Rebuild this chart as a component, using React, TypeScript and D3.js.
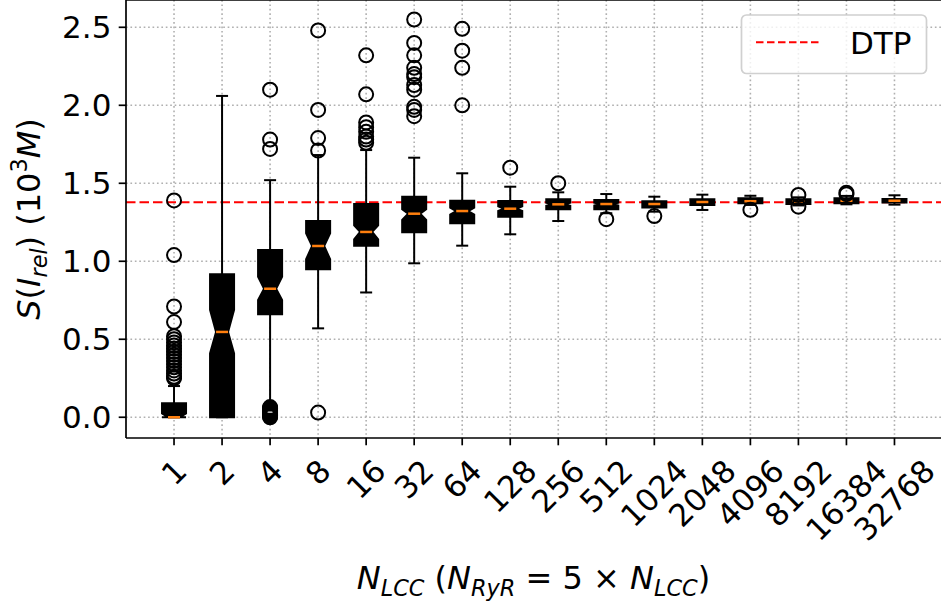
import React from 'react';
import * as d3 from 'd3';

// ---- Data ----
const categories = ['1', '2', '4', '8', '16', '32', '64', '128', '256', '512', '1024', '2048', '4096', '8192', '16384', '32768'];
const q1Values = [0.0, 0.0, 0.66, 0.949, 1.1, 1.186, 1.244, 1.286, 1.333, 1.333, 1.344, 1.361, 1.372, 1.367, 1.372, 1.376];
const medianValues = [0.0, 0.547, 0.824, 1.098, 1.188, 1.305, 1.322, 1.337, 1.365, 1.367, 1.367, 1.38, 1.385, 1.382, 1.388, 1.388];
const q3Values = [0.09, 0.917, 1.072, 1.258, 1.367, 1.414, 1.388, 1.387, 1.397, 1.393, 1.385, 1.397, 1.404, 1.397, 1.404, 1.399];
const notchLowValues = [0.0, 0.41, 0.752, 1.013, 1.141, 1.265, 1.3, 1.322, 1.355, 1.358, 1.361, 1.375, 1.38, 1.378, 1.383, 1.385];
const notchHighValues = [0.025, 0.688, 0.9, 1.18, 1.23, 1.333, 1.343, 1.352, 1.375, 1.376, 1.373, 1.385, 1.39, 1.386, 1.393, 1.391];
const whiskerLowValues = [0.0, 0.0, 0.09, 0.57, 0.8, 0.987, 1.1, 1.173, 1.258, 1.308, 1.318, 1.329, 1.361, 1.358, 1.365, 1.363];
const whiskerHighValues = [0.2, 2.06, 1.52, 1.681, 1.713, 1.664, 1.564, 1.478, 1.442, 1.431, 1.414, 1.427, 1.42, 1.41, 1.419, 1.423];
const outlierValues: number[][] = [
  [0.25, 0.26, 0.28, 0.3, 0.32, 0.34, 0.36, 0.38, 0.4, 0.42, 0.44, 0.46, 0.48, 0.5, 0.52, 0.61, 0.71, 1.04, 1.39],
  [],
  [0.0, 0.005, 0.01, 0.015, 0.02, 0.025, 0.03, 0.035, 0.04, 0.045, 0.05, 0.055, 0.06, 0.065, 1.72, 1.78, 2.1],
  [0.03, 1.71, 1.79, 1.97, 2.48],
  [1.76, 1.78, 1.8, 1.83, 1.86, 1.89, 2.07, 2.32],
  [1.93, 1.97, 1.99, 2.1, 2.13, 2.18, 2.2, 2.24, 2.32, 2.4, 2.55],
  [2.0, 2.24, 2.35, 2.49],
  [1.6],
  [1.5],
  [1.27],
  [1.29],
  [],
  [1.33],
  [1.35, 1.425],
  [1.43, 1.44],
  [],
];
const dtpValue = 1.378;
const yTicks = [0, 0.5, 1.0, 1.5, 2.0, 2.5];
const yTickLabels = ['0.0', '0.5', '1.0', '1.5', '2.0', '2.5'];

// ---- Layout ----
const W = 941;
const H = 603;
const AX_LEFT = 126;
const AX_RIGHT = 942.5;
const AX_TOP = 0;
const AX_BOTTOM = 438;
const FONT = '"DejaVu Sans", sans-serif';
const TICK_FS = 31;
const LABEL_FS = 32;
const TICK_LEN = 7.3;
const TICK_PAD = 7.3;

export default function App() {
  const x = d3.scaleLinear().domain([0, 17]).range([AX_LEFT, AX_RIGHT]);
  const y = d3.scaleLinear().domain([-0.133, 2.675]).range([AX_BOTTOM, AX_TOP]);
  const boxHalf = x(0.25) - x(0);
  const line = d3.line<[number, number]>();

  const positions = categories.map((_, i) => i + 1);

  return (
    <svg
      width={W}
      height={H}
      viewBox={`0 0 ${W} ${H}`}
      style={{ position: 'absolute', left: 0, top: 0, background: '#fff' }}
      fontFamily={FONT}
    >
      <rect x={0} y={0} width={W} height={H} fill="#fff" />
      {/* grid */}
      <g stroke="#b0b0b0" strokeWidth={1.6} strokeDasharray="1.67,2.75">
        {positions.map((p) => (
          <line key={'gx' + p} x1={x(p)} x2={x(p)} y1={AX_TOP} y2={AX_BOTTOM} />
        ))}
        {yTicks.map((t) => (
          <line key={'gy' + t} x1={AX_LEFT} x2={AX_RIGHT} y1={y(t)} y2={y(t)} />
        ))}
      </g>

      {/* DTP reference line */}
      <line
        x1={AX_LEFT}
        x2={AX_RIGHT}
        y1={y(dtpValue)}
        y2={y(dtpValue)}
        stroke="#ff0000"
        strokeWidth={2}
        strokeDasharray="9.5,4"
      />

      {/* boxes */}
      {positions.map((p, i) => {
        const cx = x(p);
        const l = cx - boxHalf;
        const r = cx + boxHalf;
        const nl = cx - boxHalf / 2;
        const nr = cx + boxHalf / 2;
        const pts: [number, number][] = [
          [l, y(q1Values[i])],
          [r, y(q1Values[i])],
          [r, y(notchLowValues[i])],
          [nr, y(medianValues[i])],
          [r, y(notchHighValues[i])],
          [r, y(q3Values[i])],
          [l, y(q3Values[i])],
          [l, y(notchHighValues[i])],
          [nl, y(medianValues[i])],
          [l, y(notchLowValues[i])],
          [l, y(q1Values[i])],
        ];
        return (
          <g key={'b' + p}>
            <path d={line(pts) + 'Z'} fill="#000" stroke="#000" strokeWidth={2} strokeLinejoin="miter" />
            <line x1={cx} x2={cx} y1={y(q1Values[i])} y2={y(whiskerLowValues[i])} stroke="#000" strokeWidth={2} />
            <line x1={cx} x2={cx} y1={y(q3Values[i])} y2={y(whiskerHighValues[i])} stroke="#000" strokeWidth={2} />
            <line x1={nl} x2={nr} y1={y(whiskerLowValues[i])} y2={y(whiskerLowValues[i])} stroke="#000" strokeWidth={2} />
            <line x1={nl} x2={nr} y1={y(whiskerHighValues[i])} y2={y(whiskerHighValues[i])} stroke="#000" strokeWidth={2} />
            <line x1={nl} x2={nr} y1={y(medianValues[i])} y2={y(medianValues[i])} stroke="#ff7f0e" strokeWidth={2.5} />
            {outlierValues[i].map((v, k) => (
              <circle key={k} cx={cx} cy={y(v)} r={7} fill="none" stroke="#000" strokeWidth={2} />
            ))}
          </g>
        );
      })}

      {/* spines */}
      <line x1={AX_LEFT} x2={AX_LEFT} y1={AX_TOP} y2={AX_BOTTOM} stroke="#000" strokeWidth={1.7} />
      <line x1={AX_LEFT} x2={AX_RIGHT} y1={AX_BOTTOM} y2={AX_BOTTOM} stroke="#000" strokeWidth={1.7} />
      <line x1={AX_LEFT} x2={AX_RIGHT} y1={AX_TOP} y2={AX_TOP} stroke="#000" strokeWidth={1.7} />

      {/* y ticks */}
      {yTicks.map((t, k) => (
        <g key={'yt' + t}>
          <line x1={AX_LEFT - TICK_LEN} x2={AX_LEFT} y1={y(t)} y2={y(t)} stroke="#000" strokeWidth={1.7} />
          <text
            x={AX_LEFT - TICK_LEN - TICK_PAD}
            y={y(t)}
            dy="0.36em"
            textAnchor="end"
            fontSize={TICK_FS}
            fill="#000"
          >
            {yTickLabels[k]}
          </text>
        </g>
      ))}

      {/* x ticks */}
      {positions.map((p, i) => {
        const cx = x(p);
        const w = categories[i].length * 0.636 * TICK_FS;
        const h = 1.164 * TICK_FS;
        const side = (w + h) / Math.SQRT2;
        const topY = AX_BOTTOM + TICK_LEN + TICK_PAD;
        const cy = topY + side / 2;
        return (
          <g key={'xt' + p}>
            <line x1={cx} x2={cx} y1={AX_BOTTOM} y2={AX_BOTTOM + TICK_LEN} stroke="#000" strokeWidth={1.7} />
            <text
              transform={`translate(${cx},${cy}) rotate(-45)`}
              textAnchor="middle"
              dy={0.346 * TICK_FS}
              fontSize={TICK_FS}
              fill="#000"
            >
              {categories[i]}
            </text>
          </g>
        );
      })}

      {/* y label */}
      <text
        transform={`translate(40,${(AX_TOP + AX_BOTTOM) / 2}) rotate(-90)`}
        textAnchor="middle"
        fontSize={LABEL_FS}
        fill="#000"
      >
        <tspan fontStyle="italic">S</tspan>
        <tspan>(</tspan>
        <tspan fontStyle="italic">I</tspan>
        <tspan fontStyle="italic" fontSize={LABEL_FS * 0.7} dy={LABEL_FS * 0.22}>rel</tspan>
        <tspan dy={-LABEL_FS * 0.22}>)</tspan>
        <tspan>{' (10'}</tspan>
        <tspan fontSize={LABEL_FS * 0.7} dy={-LABEL_FS * 0.4}>3</tspan>
        <tspan fontStyle="italic" dy={LABEL_FS * 0.4}>M</tspan>
        <tspan>)</tspan>
      </text>

      {/* x label */}
      <text x={(AX_LEFT + 941) / 2} y={589} textAnchor="middle" fontSize={LABEL_FS} fill="#000">
        <tspan fontStyle="italic">N</tspan>
        <tspan fontStyle="italic" fontSize={LABEL_FS * 0.7} dy={LABEL_FS * 0.22}>LCC</tspan>
        <tspan dy={-LABEL_FS * 0.22}>{' ('}</tspan>
        <tspan fontStyle="italic">N</tspan>
        <tspan fontStyle="italic" fontSize={LABEL_FS * 0.7} dy={LABEL_FS * 0.22}>RyR</tspan>
        <tspan dy={-LABEL_FS * 0.22}>{' = 5 × '}</tspan>
        <tspan fontStyle="italic">N</tspan>
        <tspan fontStyle="italic" fontSize={LABEL_FS * 0.7} dy={LABEL_FS * 0.22}>LCC</tspan>
        <tspan dy={-LABEL_FS * 0.22}>)</tspan>
      </text>

      {/* legend */}
      <g>
        <rect x={741.5} y={15} width={185} height={58.5} rx={5} fill="#fff" fillOpacity={0.8} stroke="#d0d0d0" strokeWidth={1.7} />
        <line x1={756} x2={822} y1={42.3} y2={42.3} stroke="#ff0000" strokeWidth={2} strokeDasharray="7.5,3.5" />
        <text x={850} y={54.3} fontSize={TICK_FS} fill="#000">DTP</text>
      </g>
    </svg>
  );
}
